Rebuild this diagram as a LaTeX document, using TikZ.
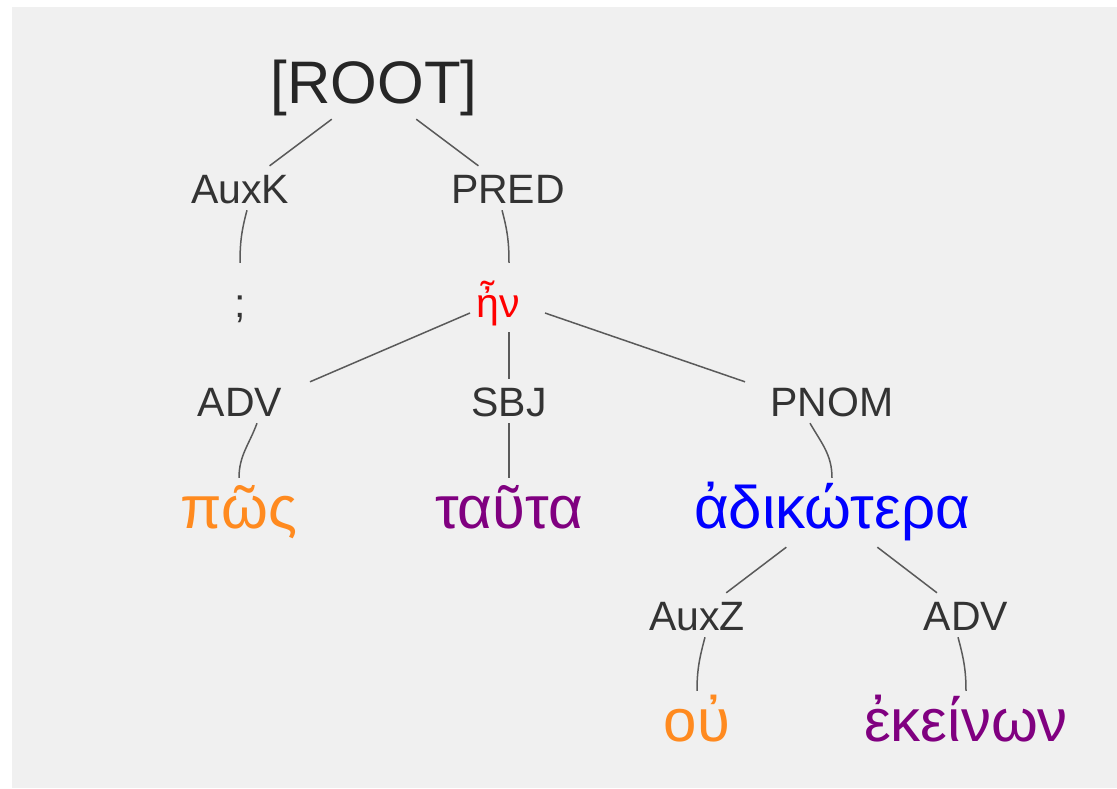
\documentclass[tikz,border=0pt]{standalone}
\usepackage{fontspec}
\setmainfont{Liberation Sans}

\definecolor{bggray}{HTML}{F0F0F0}
\definecolor{lblgray}{HTML}{333333}
\definecolor{linkgray}{HTML}{5A5A5A}
\definecolor{wordorange}{HTML}{FF8A1F}
\definecolor{wordpurple}{HTML}{800080}
\definecolor{wordblue}{HTML}{0000FF}
\definecolor{wordred}{HTML}{FF0000}

\begin{document}
\begin{tikzpicture}[x=1pt,y=-1pt,
    lbl/.style={text=lblgray,font=\fontsize{41}{41}\selectfont,anchor=base,
        text height=30pt,text depth=0pt,inner sep=7pt},
    tword/.style={lbl,text depth=8pt},
    word/.style={font=\fontsize{60}{60}\selectfont,anchor=base,
        text height=43pt,text depth=12pt,inner sep=7pt},
    link/.style={draw=linkgray,line width=1.5pt}]
        \useasboundingbox (0,0) rectangle (1117,788);
        \fill[bggray] (12,7) rectangle (1117,788);
        % tree nodes (placed at their baselines)
        \node[word,text=black!85,inner sep=4pt] (root) at (374,103) {[ROOT]};
        \node[lbl] (auxk) at (240,203) {AuxK};
        \node[lbl] (pred) at (508,203) {PRED};
        \node[tword] (semi) at (240,317) {;};
        \node[tword,text=wordred] (en) at (498,317) {ἦν};
        \node[lbl] (adv1) at (240,416) {ADV};
        \node[lbl] (sbj) at (509,416) {SBJ};
        \node[lbl] (pnom) at (832,416) {PNOM};
        \node[word,text=wordorange] (pos) at (239,528) {πῶς};
        \node[word,text=wordpurple] (tauta) at (509,528) {ταῦτα};
        \node[word,text=wordblue] (adik) at (832,528) {ἀδικώτερα};
        \node[lbl] (auxz) at (697,630) {AuxZ};
        \node[lbl] (adv2) at (966,630) {ADV};
        \node[word,text=wordorange] (ou) at (697,741) {οὐ};
        \node[word,text=wordpurple] (ekeinon) at (966,741) {ἐκείνων};
        % links
        \draw[link] (root) -- (auxk);
        \draw[link] (root) -- (pred);
        \draw[link] ([xshift=7pt]auxk.south) to[out=-105,in=90] ([yshift=17pt]semi.north);
        \draw[link] ([xshift=-6pt]pred.south) to[out=-75,in=90] ([xshift=11pt,yshift=17pt]en.north);
        \draw[link] ([xshift=-28pt,yshift=-7pt]en.center) -- ([xshift=70pt,yshift=-3pt]adv1.north);
        \draw[link] ([xshift=11pt]en.south) -- (sbj.north);
        \draw[link] ([xshift=47pt,yshift=-7pt]en.center) -- ([xshift=-87pt,yshift=-3pt]pnom.north);
        \draw[link] ([xshift=17pt]adv1.south) to[out=-110,in=90] (pos.north);
        \draw[link] (sbj.south) -- (tauta.north);
        \draw[link] ([xshift=-22pt]pnom.south) to[out=-60,in=90] (adik.north);
        \draw[link] (adik) -- (auxz);
        \draw[link] (adik) -- (adv2);
        \draw[link] ([xshift=8pt]auxz.south) to[out=-105,in=90] (ou.north);
        \draw[link] ([xshift=-8pt]adv2.south) to[out=-75,in=90] (ekeinon.north);
\end{tikzpicture}
\end{document}
